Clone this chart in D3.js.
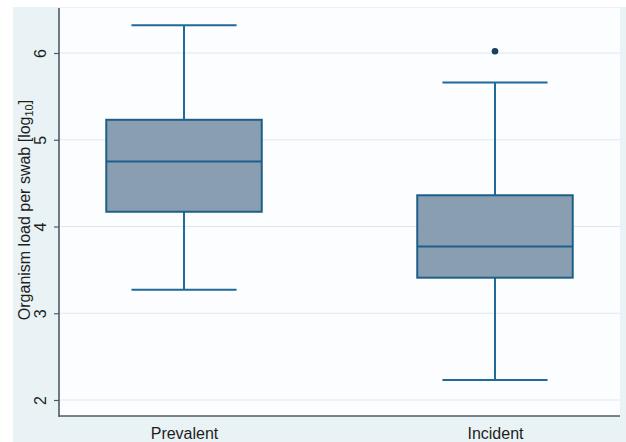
<!DOCTYPE html>
<html>
<head>
<meta charset="utf-8">
<script src="https://cdn.jsdelivr.net/npm/d3@7"></script>
<style>
  html, body { margin: 0; padding: 0; background: #ffffff; }
  svg { display: block; font-family: "Liberation Sans", Arial, sans-serif; }
</style>
</head>
<body>
<svg id="chart" width="626" height="442"></svg>
<script>
// ---- data ----
const categories = ["Prevalent", "Incident"];
const whiskerLow = [3.27, 2.23];
const q1 = [4.17, 3.41];
const median = [4.75, 3.77];
const q3 = [5.23, 4.36];
const whiskerHigh = [6.32, 5.66];
const outlierCategory = ["Incident"];
const outlierValue = [6.02];
const yTicks = [2, 3, 4, 5, 6];

// ---- layout ----
const W = 626, H = 442;
const outer = { x: 13, y: 7 };
const plot = { left: 59, right: 620, top: 8, bottom: 416 };

const svg = d3.select("#chart");

// outer graph region
svg.append("rect")
  .attr("x", outer.x).attr("y", outer.y)
  .attr("width", W - outer.x).attr("height", H - outer.y)
  .attr("fill", "#e9f2f4");

// plot region
svg.append("rect")
  .attr("x", plot.left).attr("y", plot.top)
  .attr("width", plot.right - plot.left).attr("height", plot.bottom - plot.top)
  .attr("fill", "#fcfdfe");

const y = d3.scaleLinear()
  .domain([2 - (416 - 400) / 86.75, 6 + (53 - 8) / 86.75])
  .range([plot.bottom, plot.top]);

const x = d3.scalePoint()
  .domain(categories)
  .range([plot.left, plot.right])
  .padding(0.402);

const step = x.step();
const boxW = step * 0.5;
const capW = step * 0.338;

// gridlines
svg.append("g")
  .selectAll("line")
  .data(yTicks)
  .join("line")
  .attr("x1", plot.left).attr("x2", plot.right)
  .attr("y1", d => y(d)).attr("y2", d => y(d))
  .attr("stroke", "#dbeaf1").attr("stroke-width", 1);

// y axis
const yAxis = svg.append("g")
  .attr("transform", `translate(${plot.left},0)`)
  .call(d3.axisLeft(y).tickValues(yTicks).tickSize(5).tickPadding(8).tickFormat(d3.format("d")));
yAxis.select(".domain").remove();
yAxis.selectAll(".tick line").attr("stroke", "#4d5a66").attr("stroke-width", 1.2);
yAxis.selectAll(".tick text")
  .attr("x", 0).attr("dy", null)
  .attr("transform", "translate(-13,0) rotate(-90)")
  .attr("text-anchor", "middle")
  .attr("fill", "#1e1e1e")
  .style("font-size", "16px")
  .style("font-family", "'Liberation Sans', Arial, sans-serif");

// x axis
const xAxis = svg.append("g")
  .attr("transform", `translate(0,${plot.bottom})`)
  .call(d3.axisBottom(x).tickSize(0).tickPadding(12));
xAxis.select(".domain").remove();
xAxis.selectAll(".tick text")
  .attr("fill", "#1e1e1e")
  .style("font-size", "16px")
  .style("font-family", "'Liberation Sans', Arial, sans-serif");

// axis lines
svg.append("line")
  .attr("x1", plot.left).attr("x2", plot.left)
  .attr("y1", plot.top).attr("y2", plot.bottom + 1)
  .attr("stroke", "#4d5a66").attr("stroke-width", 1.6);
svg.append("line")
  .attr("x1", plot.left).attr("x2", plot.right)
  .attr("y1", plot.bottom).attr("y2", plot.bottom)
  .attr("stroke", "#4d5a66").attr("stroke-width", 1.6);

// y axis title
const yt = svg.append("text")
  .attr("transform", `translate(30,210) rotate(-90)`)
  .attr("text-anchor", "middle")
  .attr("fill", "#1e1e1e")
  .style("font-size", "16px");
yt.append("tspan").text("Organism load per swab [log");
yt.append("tspan").attr("baseline-shift", "-25%").style("font-size", "11px").text("10");
yt.append("tspan").text("]");

// boxes
const stroke = "#1f6b97";
const boxes = svg.append("g");
categories.forEach((c, i) => {
  const cx = x(c);
  const g = boxes.append("g");
  // whiskers
  g.append("line")
    .attr("x1", cx).attr("x2", cx)
    .attr("y1", y(q3[i])).attr("y2", y(whiskerHigh[i]))
    .attr("stroke", stroke).attr("stroke-width", 2);
  g.append("line")
    .attr("x1", cx).attr("x2", cx)
    .attr("y1", y(q1[i])).attr("y2", y(whiskerLow[i]))
    .attr("stroke", stroke).attr("stroke-width", 2);
  // caps
  [whiskerHigh[i], whiskerLow[i]].forEach(v => {
    g.append("line")
      .attr("x1", cx - capW / 2).attr("x2", cx + capW / 2)
      .attr("y1", y(v)).attr("y2", y(v))
      .attr("stroke", stroke).attr("stroke-width", 2);
  });
  // box
  g.append("rect")
    .attr("x", cx - boxW / 2).attr("width", boxW)
    .attr("y", y(q3[i])).attr("height", y(q1[i]) - y(q3[i]))
    .attr("fill", "#8a9eb2").attr("stroke", "#1d5f88").attr("stroke-width", 2);
  // median
  g.append("line")
    .attr("x1", cx - boxW / 2).attr("x2", cx + boxW / 2)
    .attr("y1", y(median[i])).attr("y2", y(median[i]))
    .attr("stroke", "#1d5f88").attr("stroke-width", 2);
});

// outliers
svg.append("g")
  .selectAll("circle")
  .data(outlierValue)
  .join("circle")
  .attr("cx", (d, i) => x(outlierCategory[i]))
  .attr("cy", d => y(d))
  .attr("r", 3.3)
  .attr("fill", "#1b3c63");
</script>
</body>
</html>
